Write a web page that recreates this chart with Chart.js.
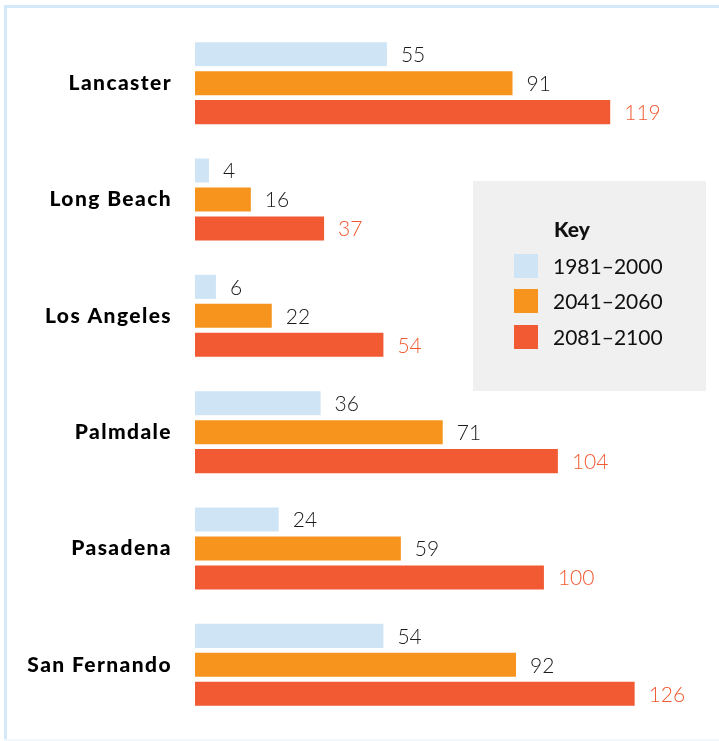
<!DOCTYPE html>
<html>

<head>
  <title>Days per year</title>
  <meta content="text/html;charset=utf-8" http-equiv="Content-Type">
  <script src="https://cdn.jsdelivr.net/npm/chart.js"></script>
  <style>
    body { margin: 0; background: #fff; }
    #wrap { position: relative; width: 719px; height: 741px; }
    #frameTop { position: absolute; left: 4px; top: 5px; width: 715px; height: 3px; background: #d3e8f8; }
    #frameLeft { position: absolute; left: 4px; top: 5px; width: 3px; height: 736px; background: #d3e8f8; }
    #frameBottom { position: absolute; left: 4px; top: 739px; width: 715px; height: 2px; background: #f0f8fd; }
  </style>
</head>

<body>
  <div id="wrap">
    <canvas id="myChart"></canvas>
    <div id="frameTop"></div>
    <div id="frameLeft"></div>
    <div id="frameBottom"></div>
  </div>

  <script>
    const cities = ['Lancaster', 'Long Beach', 'Los Angeles', 'Palmdale', 'Pasadena', 'San Fernando']
    const periods = ['1981–2000', '2041–2060', '2081–2100']
    const days1981 = [55, 4, 6, 36, 24, 54]
    const days2041 = [91, 16, 22, 71, 59, 92]
    const days2081 = [119, 37, 54, 104, 100, 126]
    const barColors = ['#cfe5f6', '#f7941e', '#f15a32']
    const valueColors = ['#1a1a1a', '#1a1a1a', '#f15a32']
    const keyTitle = 'Key'

    // wider spacing for the city names (scales are drawn before datasets)
    const spacedTicks = {
      id: 'spacedTicks',
      beforeDraw(chart) { chart.ctx.letterSpacing = '1.4px' },
      beforeDatasetsDraw(chart) { chart.ctx.letterSpacing = '0px' }
    }

    // numbers after each bar
    const valueLabels = {
      id: 'valueLabels',
      afterDatasetsDraw(chart) {
        const ctx = chart.ctx
        ctx.save()
        ctx.font = '300 21px Lato'
        ctx.textAlign = 'left'
        ctx.textBaseline = 'middle'
        chart.data.datasets.forEach((ds, i) => {
          chart.getDatasetMeta(i).data.forEach((bar, j) => {
            ctx.fillStyle = valueColors[i]
            ctx.fillText(ds.data[j], bar.x + 14, bar.y + 1)
          })
        })
        ctx.restore()
      }
    }

    // grey key box on the right
    const keyBox = {
      id: 'keyBox',
      afterDraw(chart) {
        const ctx = chart.ctx
        ctx.save()
        ctx.fillStyle = '#f0f0f0'
        ctx.fillRect(473, 181, 233, 210)
        ctx.fillStyle = '#111'
        ctx.font = '900 21px Lato'
        ctx.textBaseline = 'middle'
        ctx.fillText(keyTitle, 554, 230)
        const rows = [266, 301, 337]
        chart.data.datasets.forEach((ds, i) => {
          ctx.fillStyle = ds.backgroundColor
          ctx.fillRect(514, rows[i] - 12, 24, 24)
          ctx.fillStyle = '#111'
          ctx.font = '21px Lato'
          ctx.fillText(ds.label, 553, rows[i] + 1)
        })
        ctx.restore()
      }
    }

    const ctx = document.getElementById('myChart').getContext('2d')

    const myChart = new Chart(ctx, {
      type: 'bar',
      data: {
        labels: cities,
        datasets: [
          { label: periods[0], data: days1981, backgroundColor: barColors[0] },
          { label: periods[1], data: days2041, backgroundColor: barColors[1] },
          { label: periods[2], data: days2081, backgroundColor: barColors[2] }
        ]
      },
      options: {
        indexAxis: 'y',
        responsive: true,
        maintainAspectRatio: false,
        animation: false,
        categoryPercentage: 0.747,
        barPercentage: 0.83,
        layout: { padding: { top: 25, bottom: 18, right: 39, left: 0 } },
        plugins: {
          legend: { display: false },
          tooltip: { enabled: false }
        },
        scales: {
          x: {
            display: false,
            min: 0,
            max: 139
          },
          y: {
            grid: { display: false, drawTicks: false },
            border: { display: false },
            afterFit: (scale) => {
              scale.width = 195
              scale.paddingTop = 0
              scale.paddingBottom = 0
            },
            ticks: {
              padding: 23,
              color: '#000',
              font: { family: 'Lato', weight: '900', size: 21 }
            }
          }
        }
      },
      plugins: [spacedTicks, valueLabels, keyBox]
    })
  </script>
</body>

</html>
